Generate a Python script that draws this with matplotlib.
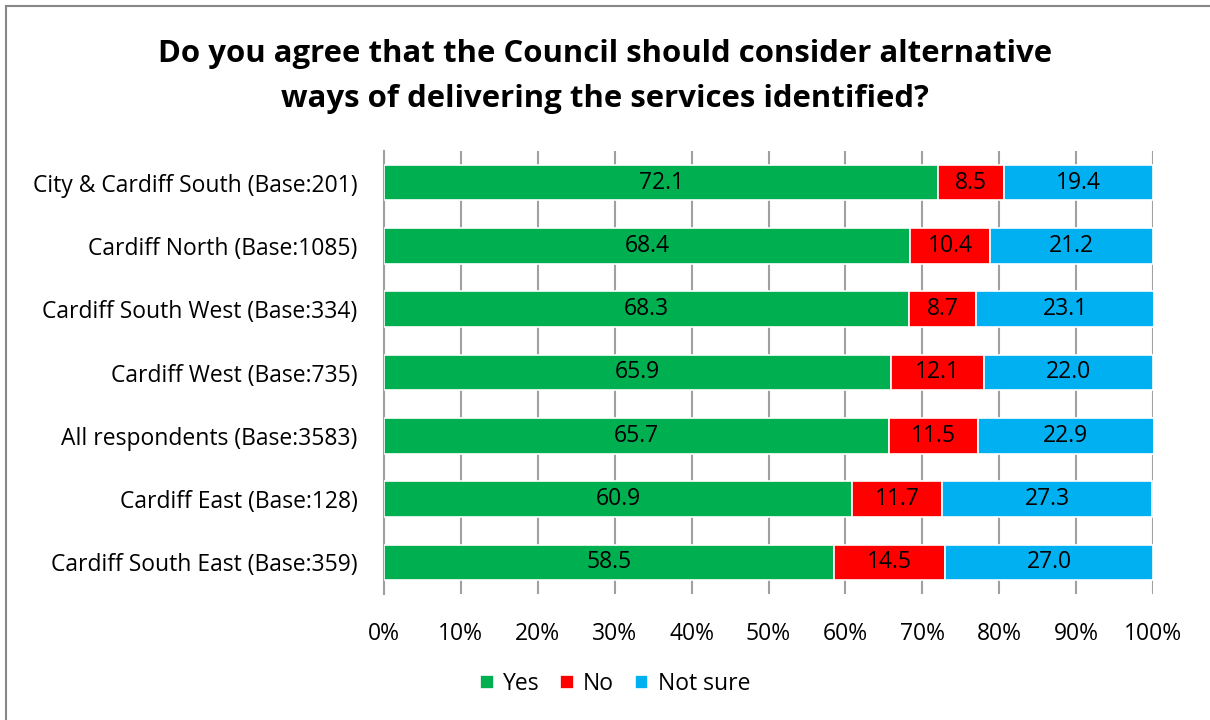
import matplotlib.pyplot as plt
from matplotlib.lines import Line2D

categories = ['City & Cardiff South (Base:201)', 'Cardiff North (Base:1085)',
              'Cardiff South West (Base:334)', 'Cardiff West (Base:735)',
              'All respondents (Base:3583)', 'Cardiff East (Base:128)',
              'Cardiff South East (Base:359)']
yes = [72.1, 68.4, 68.3, 65.9, 65.7, 60.9, 58.5]
no = [8.5, 10.4, 8.7, 12.1, 11.5, 11.7, 14.5]
not_sure = [19.4, 21.2, 23.1, 22.0, 22.9, 27.3, 27.0]
series_names = ['Yes', 'No', 'Not sure']
colors = ['#00B050', '#FF0000', '#00B0F0']

plt.rcParams['font.family'] = ['Open Sans', 'DejaVu Sans']
fs = 16.5

fig = plt.figure(figsize=(12.1, 7.2), dpi=100)
ax = fig.add_axes([384 / 1210, 1 - 594 / 720, (1153 - 384) / 1210, 443 / 720])

ypos = list(range(len(categories)))
left = [0] * len(categories)
for vals, name, col in zip([yes, no, not_sure], series_names, colors):
    bars = ax.barh(ypos, vals, left=left, height=0.56, color=col,
                   edgecolor='white', linewidth=1.2, label=name, zorder=3)
    for b, v in zip(bars, vals):
        ax.text(b.get_x() + b.get_width() / 2, b.get_y() + b.get_height() / 2,
                f'{v:.1f}', ha='center', va='center', fontsize=fs, zorder=4)
    left = [l + v for l, v in zip(left, vals)]

ax.set_xlim(0, 100)
ax.set_ylim(len(categories) - 0.5, -0.5)
ax.set_yticks(ypos)
ax.set_yticklabels(categories, fontsize=fs)
ax.set_xticks(range(0, 101, 10))
ax.set_xticklabels([f'{t}%' for t in range(0, 101, 10)], fontsize=fs)
ax.tick_params(axis='both', length=0)
ax.tick_params(axis='x', pad=20)
ax.tick_params(axis='y', pad=19)
ax.xaxis.grid(True, color='#A0A0A0', linewidth=1.5, zorder=0)
for s in ['top', 'right', 'bottom']:
    ax.spines[s].set_visible(False)
ax.spines['left'].set_color('#A0A0A0')
ax.spines['left'].set_linewidth(1.5)

fig.suptitle('Do you agree that the Council should consider alternative\nways of delivering the services identified?',
             y=1 - 39 / 720, va='top', fontsize=22.4, fontweight='bold', linespacing=1.65)

fig.legend(loc='center', bbox_to_anchor=(615 / 1210, 1 - 684 / 720), ncol=3,
           frameon=False, fontsize=fs, handlelength=0.6, handleheight=0.6,
           handletextpad=0.4, columnspacing=0.9)

fig.add_artist(Line2D([6 / 1210, 6 / 1210], [0, 1 - 6 / 720], transform=fig.transFigure,
                      color='#888888', linewidth=1.5))
fig.add_artist(Line2D([6 / 1210, 1], [1 - 6 / 720, 1 - 6 / 720], transform=fig.transFigure,
                      color='#888888', linewidth=1.5))

fig.savefig('out.png', dpi=100)
